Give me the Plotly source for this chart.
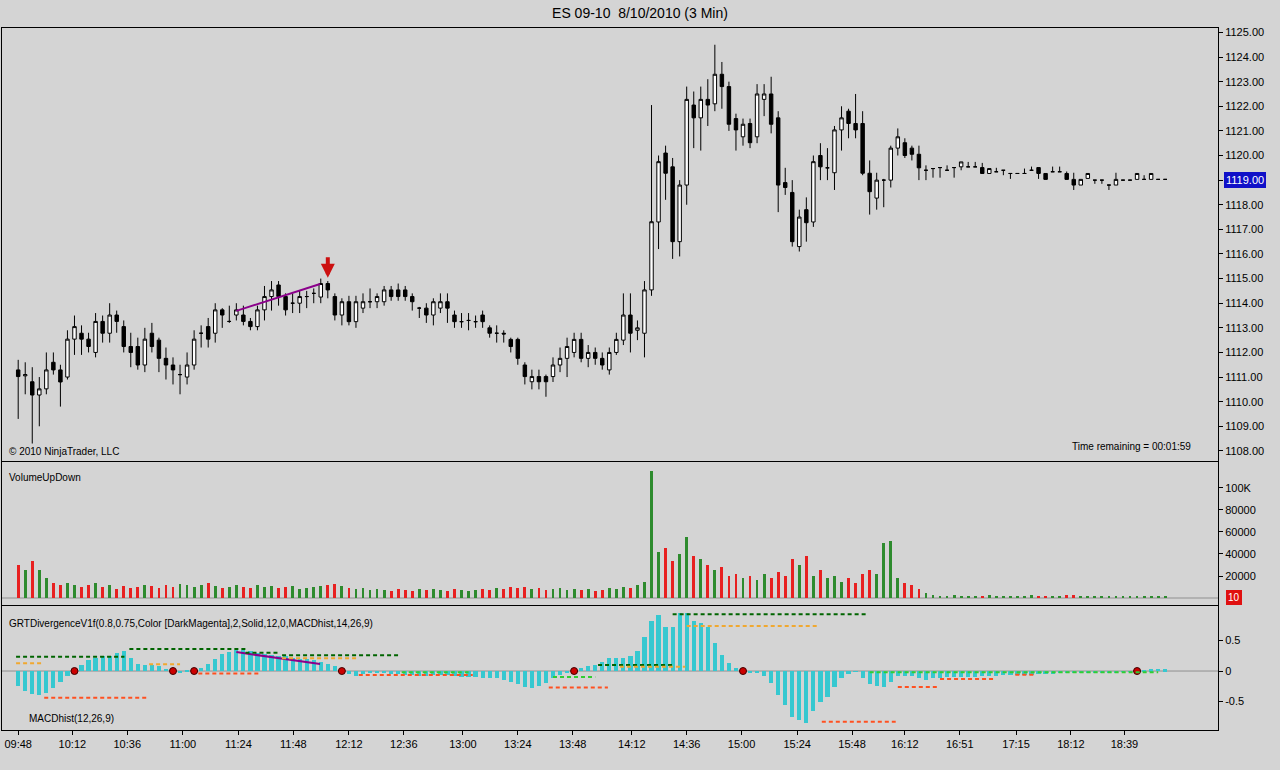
import plotly.graph_objects as go

opens = [1111.29,1111.05,1110.81,1110.27,1110.52,1111.6,1111.29,1111.0,1112.54,1112.78,1112.54,1112.0,1113.26,1112.78,1113.52,1113.05,1112.24,1112.24,1111.49,1112.78,1112.5,1111.76,1111.49,1111.1,1111.0,1111.49,1112.78,1113.05,1112.78,1113.73,1113.26,1113.52,1113.52,1113.26,1113.05,1113.73,1114.27,1114.74,1114.27,1114.0,1114.0,1114.27,1114.4,1114.25,1114.8,
 1114.27,1113.52,1114.06,1113.25,1113.8,1114.06,1114.06,1114.06,1114.54,1114.54,1114.54,1114.27,1113.8,1113.8,1113.52,1113.8,1114.06,1113.52,1113.25,1113.3,1113.25,1113.52,1113.0,1112.78,1112.78,1112.53,1112.53,1111.49,1110.81,1111.02,1111.02,1111.02,1111.49,1111.76,1112.0,1112.53,1111.76,1112.0,1111.76,1111.29,1112.0,1112.5,1113.52,1112.9,1112.78,
 1114.54,1117.3,1120.1,1119.54,1116.5,1118.8,1122.05,1121.53,1122.28,1122.1,1123.3,1122.8,1121.5,1120.76,1121.3,1120.76,1122.28,1122.5,1121.53,1118.9,1118.5,1116.3,1117.8,1117.3,1120.0,1119.5,1119.3,1121.04,1121.8,1121.3,1121.3,1119.28,1118.27,1119.0,1119.0,1120.3,1120.52,1120.3,1120.05,
 1119.4,1119.47,1119.51,1119.4,1119.51,1119.54,1119.54,1119.54,1119.51,1119.27,1119.34,1119.4,1119.27,1119.27,1119.27,1119.4,1119.51,1119.27,1119.34,1119.34,1119.27,1119.03,1118.8,1119.07,1119.0,1119.0,1118.8,1118.8,1119.0,1119.0,1119.03,1119.03,1119.03,1119.03,1119.03]
highs = [1111.7,1111.6,1111.4,1111.0,1112.0,1112.0,1111.5,1112.9,1113.5,1113.1,1112.8,1113.6,1113.5,1114.0,1113.7,1113.3,1112.8,1112.6,1113.0,1113.2,1112.6,1112.2,1111.8,1111.5,1112.0,1112.9,1113.1,1113.4,1114.0,1113.8,1113.9,1114.0,1113.9,1113.4,1113.9,1114.7,1114.9,1114.9,1114.4,1114.4,1114.5,1114.5,1114.6,1115.0,1114.9,
 1114.4,1114.2,1114.3,1114.3,1114.4,1114.6,1114.4,1114.7,1114.7,1114.8,1114.7,1114.4,1113.85,1114.0,1114.2,1114.4,1114.4,1113.7,1113.6,1113.6,1113.5,1113.7,1113.1,1113.1,1112.9,1112.6,1112.6,1111.6,1111.3,1111.3,1111.1,1111.8,1112.2,1112.6,1112.8,1112.8,1112.3,1112.2,1112.0,1112.2,1112.8,1114.4,1114.4,1113.3,1114.9,
 1122.05,1120.0,1120.4,1119.9,1119.0,1122.8,1122.6,1122.8,1123.1,1124.5,1123.8,1123.0,1121.7,1121.5,1121.5,1122.9,1122.9,1123.2,1121.8,1119.5,1119.0,1117.8,1118.3,1120.0,1120.5,1120.3,1121.2,1122.0,1121.9,1122.5,1121.8,1119.8,1119.3,1119.05,1120.4,1121.1,1120.7,1120.4,1120.4,
 1119.6,1119.47,1119.51,1119.6,1119.51,1119.74,1119.74,1119.74,1119.7,1119.47,1119.5,1119.4,1119.27,1119.27,1119.47,1119.55,1119.51,1119.27,1119.55,1119.55,1119.35,1119.3,1119.03,1119.27,1119.0,1119.0,1118.8,1119.3,1119.0,1119.0,1119.27,1119.2,1119.27,1119.03,1119.03]
lows = [1109.3,1110.3,1108.3,1109.0,1110.3,1111.1,1109.8,1110.9,1111.9,1111.9,1112.0,1111.8,1112.4,1112.4,1112.8,1112.0,1111.4,1111.3,1111.2,1112.0,1111.2,1110.9,1110.7,1110.3,1110.7,1111.3,1112.2,1112.2,1112.4,1113.0,1113.2,1113.3,1113.1,1112.9,1112.9,1113.3,1113.7,1113.9,1113.5,1113.6,1113.6,1113.8,1114.0,1114.0,1114.2,
 1113.3,1113.1,1113.1,1113.0,1113.6,1113.8,1113.8,1113.9,1114.1,1114.1,1114.1,1113.7,1113.4,1113.2,1113.1,1113.6,1113.2,1113.0,1113.0,1112.9,1113.0,1113.0,1112.6,1112.4,1112.4,1112.0,1111.5,1110.7,1110.5,1110.5,1110.2,1110.8,1111.2,1111.0,1111.8,1111.6,1111.4,1111.5,1111.3,1111.1,1111.9,1112.3,1112.0,1112.5,1111.8,
 1114.3,1116.2,1118.2,1115.8,1115.9,1118.0,1120.3,1120.2,1121.2,1121.8,1121.9,1121.0,1120.2,1120.4,1120.3,1120.5,1121.6,1120.9,1117.7,1118.4,1116.3,1116.1,1116.5,1117.1,1119.0,1119.0,1118.6,1120.2,1120.7,1120.7,1119.2,1117.6,1117.8,1117.9,1118.7,1120.0,1119.9,1119.8,1119.0,
 1119.0,1119.1,1119.1,1119.4,1119.1,1119.4,1119.54,1119.54,1119.27,1119.27,1119.34,1119.2,1119.05,1119.27,1119.27,1119.4,1119.05,1119.03,1119.34,1119.34,1119.03,1118.6,1118.8,1119.07,1118.85,1118.85,1118.6,1118.8,1119.0,1119.0,1119.03,1119.03,1119.03,1119.03,1119.03]
closes = [1111.02,1111.1,1110.27,1110.52,1111.29,1111.29,1110.8,1112.54,1113.05,1112.54,1112.24,1113.26,1112.78,1113.52,1113.26,1112.24,1112.0,1111.49,1112.54,1112.24,1111.76,1111.49,1111.29,1111.1,1111.49,1112.54,1112.78,1112.54,1113.73,1113.52,1113.26,1113.73,1113.26,1113.05,1113.73,1114.27,1114.54,1114.27,1113.73,1114.0,1114.27,1114.27,1114.4,1114.8,1114.54,
 1113.52,1114.06,1113.25,1114.06,1114.06,1114.06,1114.27,1114.54,1114.27,1114.27,1114.27,1114.06,1113.8,1113.52,1114.06,1114.06,1113.8,1113.25,1113.25,1113.3,1113.25,1113.25,1112.78,1112.78,1112.75,1112.24,1111.76,1111.02,1111.02,1110.81,1110.81,1111.49,1111.76,1112.24,1112.53,1111.76,1112.0,1111.76,1111.49,1112.0,1112.53,1113.52,1112.78,1113.0,1114.54,
 1117.31,1119.75,1119.28,1116.5,1118.8,1122.28,1121.53,1122.28,1122.05,1123.3,1122.8,1121.27,1121.04,1121.27,1120.52,1122.5,1122.5,1121.27,1118.8,1118.7,1116.5,1117.5,1117.27,1119.75,1119.54,1119.5,1121.04,1121.53,1121.3,1121.04,1119.28,1118.53,1119.0,1119.0,1120.3,1120.76,1120.0,1120.05,1119.5,
 1119.4,1119.47,1119.51,1119.4,1119.51,1119.74,1119.54,1119.54,1119.27,1119.47,1119.34,1119.4,1119.27,1119.27,1119.27,1119.4,1119.27,1119.03,1119.34,1119.34,1119.03,1118.8,1119.03,1119.27,1119.0,1119.0,1118.8,1119.03,1119.0,1119.0,1119.27,1119.03,1119.27,1119.03,1119.03]

volumes = [30000,25000,34000,25000,18000,14000,12000,14000,12000,10000,12000,14000,10000,12000,8000,11000,
 9000,10000,12000,11000,9000,12000,10000,13000,12000,10000,12000,14000,11000,9000,10000,12000,
 10000,9000,12000,10000,11000,9000,10000,11000,8000,9000,10000,11000,12000,13000,11000,9000,
 8000,9000,7000,8000,7000,6000,8000,7000,6000,8000,7000,8000,7000,6000,8000,7000,
 6000,7000,8000,7000,9000,8000,10000,9000,10000,8000,9000,7000,8000,9000,7000,8000,
 7000,8000,6000,7000,9000,8000,10000,9000,12000,15000,
 115000,42000,45000,34000,40000,55000,38000,35000,30000,25000,
 28000,20000,22000,18000,20000,16000,22000,18000,24000,20000,
 35000,30000,38000,20000,25000,18000,20000,15000,18000,14000,
 22000,25000,22000,50000,52000,18000,14000,12000,
 8000,5000,3000,2000,2000,2500,2000,1500,
 2000,1500,2500,2000,1500,2000,1800,1500,2500,2000,2200,1500,1800,2500,3000,2000,1500,1800,2000,1500,2200,1500,1800,2000,1500,2000,1500,1000]

macd_hist = [-0.25,-0.32,-0.38,-0.40,-0.36,-0.28,-0.18,-0.08, 0.0,
 0.1,0.18,0.22,0.25,0.25,0.3,0.33,0.22,0.12,0.1,0.1,0.08,0.04,0.0,-0.02,0.02,0.0,
 0.05,0.12,0.2,0.28,0.32,0.35,0.35,0.33,
 0.3,0.28,0.27,0.25,0.24,0.22,0.2,0.2,0.18,0.15,0.12,0.08, 0.0,
 -0.05,-0.08,-0.05,-0.03,-0.03,-0.04,-0.05,-0.05,-0.06,
 -0.07,-0.08,-0.08,-0.07,-0.06,-0.07,-0.08,-0.09,-0.1,-0.1,-0.11,-0.12,-0.12,-0.14,-0.18,
 -0.22,-0.26,-0.28,-0.25,-0.2,-0.12,-0.06,-0.02, 0.0,
 0.05,0.08,0.1,0.15, 0.22,0.22,0.22,0.25,
 0.33,0.55,0.82,0.92,0.72,0.72,0.95,0.95,0.82,0.78,0.72,0.46,0.27,0.13,0.05,0.0,
 -0.02,-0.03,-0.08,-0.2,-0.4,-0.55,-0.75,-0.8,-0.85,-0.65,-0.5,-0.42,-0.27,-0.12,-0.05,-0.01,-0.12,-0.22,-0.25,-0.27,-0.18,-0.08,-0.08,-0.08,-0.12,-0.15,-0.12,
 -0.11,-0.1,-0.1,-0.1,-0.09,-0.09,-0.08,-0.08,-0.08,-0.07,-0.07,-0.06,-0.06,-0.06,-0.05,-0.05,-0.05,-0.04,-0.04,-0.04,-0.03,-0.03,-0.03,-0.02,-0.02,-0.02,-0.01,-0.01,
 0.0, 0.02,0.03,0.04,0.03]

zero_cross_bars = [8, 22, 25, 46, 79, 103, 159]

tick_pos = [0,7.7,15.5,23.4,31.3,39.1,47,54.8,63.2,71,78.8,87.2,95,102.8,110.7,118.5,126,133.8,141.8,149.6,157.2]
tick_labels = ["09:48","10:12","10:36","11:00","11:24","11:48","12:12","12:36","13:00","13:24","13:48","14:12","14:36","15:00","15:24","15:48","16:12","16:51","17:15","18:12","18:39"]

# divergence level segments (start bar, end bar, level, colour)
lvl_x0 = [-0.3, 15.8, 32.3, 37.5, 82.4, 93.0, -0.3, 18.6, 37.5, 85.5, 95.0, 3.7, 25.6, 48.4, 75.4, 114.2, 125.0, 131.0, 141.7, 54.5, 76.0, 121.0]
lvl_x1 = [15.1, 32.3, 37.2, 54.0, 93.0, 120.8, 3.3, 23.0, 48.2, 94.8, 113.6, 18.3, 34.2, 64.6, 83.8, 124.7, 130.7, 138.8, 144.5, 64.0, 82.0, 162.0]
lvl_y = [0.235, 0.36, 0.30, 0.26, 0.10, 0.93, 0.126, 0.11, 0.21, 0.07, 0.74, -0.44, -0.04, -0.065, -0.27, -0.83, -0.26, -0.13, -0.06, -0.02, -0.10, -0.02]
lvl_c = ["#006400"]*6 + ["#f0a830"]*5 + ["#ff5020"]*8 + ["#32cd32"]*3

div_price_x = [31.0, 42.9]
div_price_y = [1113.69, 1114.78]
div_macd_x = [31.0, 42.9]
div_macd_y = [0.31, 0.115]
signal_bar = 44
last_price = 1119.00
last_volume = 10

n = min(len(opens), len(highs), len(lows), len(closes), len(volumes), len(macd_hist))
x = list(range(n))
vol_colors = ["#2e8b2e" if closes[i] >= opens[i] else "#e82020" for i in range(n)]

BG = "#d4d4d4"
fig = go.Figure()
fig.add_trace(go.Candlestick(x=x, open=opens[:n], high=highs[:n], low=lows[:n], close=closes[:n],
    increasing=dict(fillcolor="white", line=dict(color="black", width=1)),
    decreasing=dict(fillcolor="black", line=dict(color="black", width=1)),
    whiskerwidth=0, xaxis="x", yaxis="y", showlegend=False))
fig.add_trace(go.Scatter(x=div_price_x, y=div_price_y, mode="lines", line=dict(color="#8b008b", width=2),
    xaxis="x", yaxis="y", showlegend=False))
fig.add_trace(go.Bar(x=x, y=volumes[:n], marker=dict(color=vol_colors, line=dict(width=0)), width=0.4,
    xaxis="x2", yaxis="y2", showlegend=False))
fig.add_trace(go.Bar(x=x, y=macd_hist[:n], marker=dict(color="#36c8d0", line=dict(width=0)), width=0.6,
    xaxis="x3", yaxis="y3", showlegend=False))
fig.add_trace(go.Scatter(x=div_macd_x, y=div_macd_y, mode="lines", line=dict(color="#8b008b", width=2),
    xaxis="x3", yaxis="y3", showlegend=False))
fig.add_trace(go.Scatter(x=zero_cross_bars, y=[0]*len(zero_cross_bars), mode="markers",
    marker=dict(color="#cc0000", size=7, line=dict(color="#400000", width=1)),
    xaxis="x3", yaxis="y3", showlegend=False))

shapes = []
for a, b, v, c in zip(lvl_x0, lvl_x1, lvl_y, lvl_c):
    shapes.append(dict(type="line", xref="x3", yref="y3", x0=a, x1=b, y0=v, y1=v,
                       line=dict(color=c, width=2, dash="4px,3px"), layer="above"))
shapes.append(dict(type="line", xref="x3 domain", yref="y3", x0=0, x1=1, y0=0, y1=0, line=dict(color="#909090", width=1), layer="below"))
shapes.append(dict(type="line", xref="x2 domain", yref="y2", x0=0, x1=1, y0=0, y1=0, line=dict(color="#909090", width=1), layer="below"))

def py(p):
    return (730 - p) / 702.0

def px(p):
    return (p - 2) / 1216.0

xr = [-2.3, 170.5]
ax_common = dict(range=xr, showgrid=False, zeroline=False, showline=True, mirror=True, linecolor="black", linewidth=1,
                 rangeslider=dict(visible=False))
yfont = dict(family="Liberation Sans, Arial", size=11, color="black")
fig.update_layout(
    width=1280, height=770, paper_bgcolor=BG, plot_bgcolor=BG,
    margin=dict(l=2, r=62, t=28, b=40, autoexpand=False),
    font=dict(family="Liberation Sans, Arial", size=11, color="black"),
    bargap=0, showlegend=False, shapes=shapes,
    xaxis=dict(**ax_common, domain=[0, 1], anchor="y", showticklabels=False, ticks=""),
    xaxis2=dict(**ax_common, domain=[0, 1], anchor="y2", showticklabels=False, ticks="", matches="x"),
    xaxis3=dict(**ax_common, domain=[0, 1], anchor="y3", matches="x", tickmode="array", tickvals=tick_pos,
                ticktext=tick_labels, ticks="outside", ticklen=4, tickcolor="black", tickfont=yfont),
    yaxis=dict(domain=[py(461), 1], range=[1107.59, 1125.18], side="right", dtick=1, tickformat=".2f",
               ticks="outside", ticklen=4, tickcolor="black", showgrid=False, zeroline=False,
               showline=True, mirror=True, linecolor="black", tickfont=yfont),
    yaxis2=dict(domain=[py(605), py(462)], range=[-6360, 123600], side="right", tickmode="array",
                tickvals=[20000, 40000, 60000, 80000, 100000], ticktext=["20000", "40000", "60000", "80000", "100K"],
                ticks="outside", ticklen=4, tickcolor="black", showgrid=False, zeroline=False,
                showline=True, mirror=True, linecolor="black", tickfont=yfont),
    yaxis3=dict(domain=[0, py(606)], range=[-0.967, 1.066], side="right", tickmode="array",
                tickvals=[-0.5, 0, 0.5], ticktext=["-0.5", "0", "0.5"],
                ticks="outside", ticklen=4, tickcolor="black", showgrid=False, zeroline=False,
                showline=True, mirror=True, linecolor="black", tickfont=yfont),
    title=dict(text="ES 09-10  8/10/2010 (3 Min)", x=0.5, xanchor="center", y=1 - 13/770, yanchor="middle",
               font=dict(size=14, color="black")),
)

anns = [
    dict(xref="paper", yref="paper", x=px(7), y=py(451), text="© 2010 NinjaTrader, LLC", showarrow=False,
         xanchor="left", yanchor="middle", font=dict(size=10)),
    dict(xref="paper", yref="paper", x=px(1193), y=py(446), text="Time remaining = 00:01:59", showarrow=False,
         xanchor="right", yanchor="middle", font=dict(size=10)),
    dict(xref="paper", yref="paper", x=px(7), y=py(478), text="VolumeUpDown", showarrow=False,
         xanchor="left", yanchor="middle", font=dict(size=10)),
    dict(xref="paper", yref="paper", x=px(7), y=py(623),
         text="GRTDivergenceV1f(0.8,0.75,Color [DarkMagenta],2,Solid,12,0,MACDhist,14,26,9)", showarrow=False,
         xanchor="left", yanchor="middle", font=dict(size=10)),
    dict(xref="paper", yref="paper", x=px(27), y=py(718), text="MACDhist(12,26,9)", showarrow=False,
         xanchor="left", yanchor="middle", font=dict(size=10)),
    dict(xref="x", yref="y", x=signal_bar, y=highs[signal_bar] + 0.13, ax=0, ay=-22, showarrow=True,
         arrowhead=2, arrowsize=0.7, arrowwidth=4, arrowcolor="#cc1010", text=""),
    dict(xref="paper", yref="y", x=1.0, y=last_price, text="%.2f" % last_price, showarrow=False,
         xanchor="left", xshift=6, bgcolor="#1010c8", bordercolor="#1010c8", font=dict(size=11, color="white")),
    dict(xref="paper", yref="y2", x=1.0, y=last_volume, text="10", showarrow=False,
         xanchor="left", xshift=8, bgcolor="#e01010", bordercolor="#e01010", font=dict(size=10, color="white")),
]
fig.update_layout(annotations=anns)
fig.write_html("out.html", config={"displayModeBar": False}, post_script="document.body.style.margin='0';")
